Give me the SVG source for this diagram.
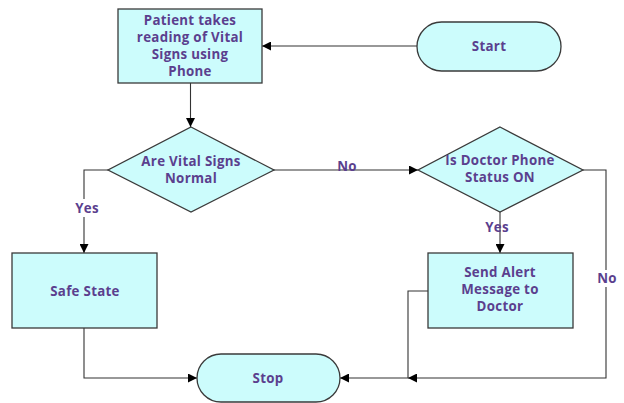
<svg xmlns="http://www.w3.org/2000/svg" width="624" height="403" viewBox="0 0 624 403">
<defs>
<marker id="arr" viewBox="0 0 10 10" refX="10" refY="5" markerWidth="9" markerHeight="9" markerUnits="userSpaceOnUse" orient="auto">
<path d="M0,0 L10,5 L0,10 Z" fill="#000"/>
</marker>
<style>
.box{fill:#ccfcfc;stroke:#3a3a3a;stroke-width:1.3}
.t{font-family:"Open Sans","Noto Sans",sans-serif;font-weight:bold;font-size:13.3px;letter-spacing:0.3px;fill:#5b3f8e;text-anchor:middle}
.c{fill:none;stroke:#333;stroke-width:1.1}
.lbg{fill:#fff}
</style>
</defs>
<rect width="624" height="403" fill="#fff"/>
<g id="connectors">
<path class="c" d="M417,46 L262,46" marker-end="url(#arr)"/>
<path class="c" d="M190.5,83 L190.5,127" marker-end="url(#arr)"/>
<path class="c" d="M108,170 L84,170 L84,253" marker-end="url(#arr)"/>
<path class="c" d="M273,170 L418,170" marker-end="url(#arr)"/>
<path class="c" d="M500,212 L500,253" marker-end="url(#arr)"/>
<path class="c" d="M583,170 L606,170 L606,378 L408,378" marker-end="url(#arr)"/>
<path class="c" d="M428,291 L408,291 L408,378 L340,378" marker-end="url(#arr)"/>
<path class="c" d="M84,328 L84,378 L197,378" marker-end="url(#arr)"/>
<rect class="lbg" x="71" y="199" width="32" height="18"/>
<text class="t" x="87" y="213">Yes</text>
<text class="t" x="347" y="171">No</text>
<text class="t" x="497" y="232">Yes</text>
<rect class="lbg" x="595" y="270" width="24" height="17"/>
<text class="t" x="607" y="283">No</text>
</g>
<g id="start">
<rect class="box" x="417" y="22" width="144" height="49" rx="24.5"/>
<text class="t" x="489" y="51">Start</text>
</g>
<g id="reading">
<rect class="box" x="118" y="9" width="144" height="74"/>
<text class="t" x="190" y="25">Patient takes</text>
<text class="t" x="190" y="42">reading of Vital</text>
<text class="t" x="190" y="59">Signs using</text>
<text class="t" x="190" y="76">Phone</text>
</g>
<g id="vitals-normal">
<polygon class="box" points="191,127 274,170 191,212 108,170"/>
<text class="t" x="191" y="166">Are Vital Signs</text>
<text class="t" x="191" y="183">Normal</text>
</g>
<g id="doctor-status">
<polygon class="box" points="500,127 583,170 500,212 418,170"/>
<text class="t" x="500" y="165">Is Doctor Phone</text>
<text class="t" x="500" y="182">Status ON</text>
</g>
<g id="safe-state">
<rect class="box" x="12" y="253" width="145" height="75"/>
<text class="t" x="85" y="296">Safe State</text>
</g>
<g id="send-alert">
<rect class="box" x="428" y="253" width="145" height="75"/>
<text class="t" x="500" y="277">Send Alert</text>
<text class="t" x="500" y="294">Message to</text>
<text class="t" x="500" y="311">Doctor</text>
</g>
<g id="stop">
<rect class="box" x="197" y="354" width="143" height="48" rx="24"/>
<text class="t" x="268" y="383">Stop</text>
</g>
</svg>
